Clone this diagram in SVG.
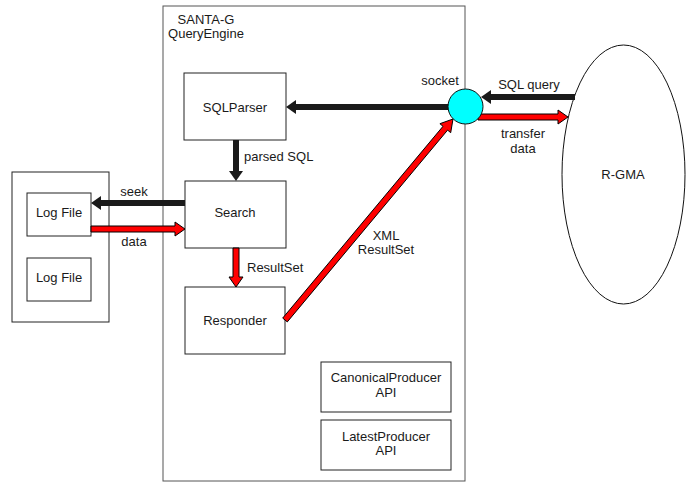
<svg xmlns="http://www.w3.org/2000/svg" width="688" height="482" viewBox="0 0 688 482">
<style>
text{font-family:"Liberation Sans",Arial,sans-serif;font-size:13px;fill:#1a1a1a}
.c{text-anchor:middle}
.box{fill:#fff;stroke:#222;stroke-width:1}
.blk{stroke:#1a1a1a;stroke-width:6;fill:none}
.bh{fill:#1a1a1a}
.red{fill:#ff0000;stroke:#000;stroke-width:1;stroke-linejoin:miter}
</style>
<rect width="688" height="482" fill="#fff"/>
<g id="queryengine">
<rect x="163" y="6" width="302" height="475" fill="#fff" stroke="#555" stroke-width="1"/>
<text class="c" x="206" y="24">SANTA-G</text>
<text class="c" x="206" y="38">QueryEngine</text>
</g>
<g id="logstore">
<rect class="box" x="12" y="172" width="97" height="150"/>
</g>
<g id="logfile1"><rect class="box" x="27" y="193" width="64" height="43"/><text class="c" x="59" y="217">Log File</text></g>
<g id="logfile2"><rect class="box" x="27" y="258" width="64" height="43"/><text class="c" x="59" y="282">Log File</text></g>
<g id="sqlparser"><rect class="box" x="184" y="73" width="102" height="67"/><text class="c" x="235" y="112">SQLParser</text></g>
<g id="search"><rect class="box" x="185" y="181" width="101" height="67"/><text class="c" x="235" y="217">Search</text></g>
<g id="responder"><rect class="box" x="185" y="287" width="100" height="67"/><text class="c" x="235" y="325">Responder</text></g>
<g id="canonical"><rect class="box" x="321" y="362" width="130" height="50"/><text class="c" x="386" y="382">CanonicalProducer</text><text class="c" x="386" y="397">API</text></g>
<g id="latest"><rect class="box" x="321" y="420" width="130" height="50"/><text class="c" x="386" y="441">LatestProducer</text><text class="c" x="386" y="455">API</text></g>
<g id="rgma"><ellipse cx="623.5" cy="174.5" rx="61.5" ry="129.5" fill="#fff" stroke="#111" stroke-width="1"/><text class="c" x="623" y="179">R-GMA</text></g>
<g id="connectors">
<line class="blk" x1="575" y1="97" x2="490" y2="97"/><polygon class="bh" points="491,90 481,97 491,104"/>
<line class="blk" x1="450" y1="107" x2="295" y2="107"/><polygon class="bh" points="296,100 286,107 296,114"/>
<line class="blk" x1="185" y1="203" x2="100" y2="203"/><polygon class="bh" points="101,196 91,203 101,210"/>
<line class="blk" x1="236" y1="140" x2="236" y2="172"/><polygon class="bh" points="229,171 236,181 243,171"/>
<polygon class="red" points="478,114 558,114 558,110 568,117 558,124 558,120 478,120"/>
<polygon class="red" points="91,226 175,226 175,222 185,229 175,236 175,232 91,232"/>
<polygon class="red" points="233,248 233,277 229,277 236,287 243,277 239,277 239,248"/>
<polygon class="red" points="282.7,318.1 443,126.3 439.9,123.7 453,119 450.7,132.7 447.6,130.1 287.3,321.9"/>
<text class="c" x="134" y="196">seek</text>
<text class="c" x="134" y="246">data</text>
<text x="244" y="161">parsed SQL</text>
<text x="247" y="272">ResultSet</text>
<text class="c" x="386" y="240">XML</text>
<text class="c" x="386" y="254">ResultSet</text>
<text class="c" x="529" y="89">SQL query</text>
<text class="c" x="523" y="138">transfer</text>
<text class="c" x="523" y="153">data</text>
</g>
<g id="socket"><circle cx="465.5" cy="106.5" r="17.5" fill="#00ffff" stroke="#111" stroke-width="1"/><text class="c" x="440" y="85">socket</text></g>
</svg>
